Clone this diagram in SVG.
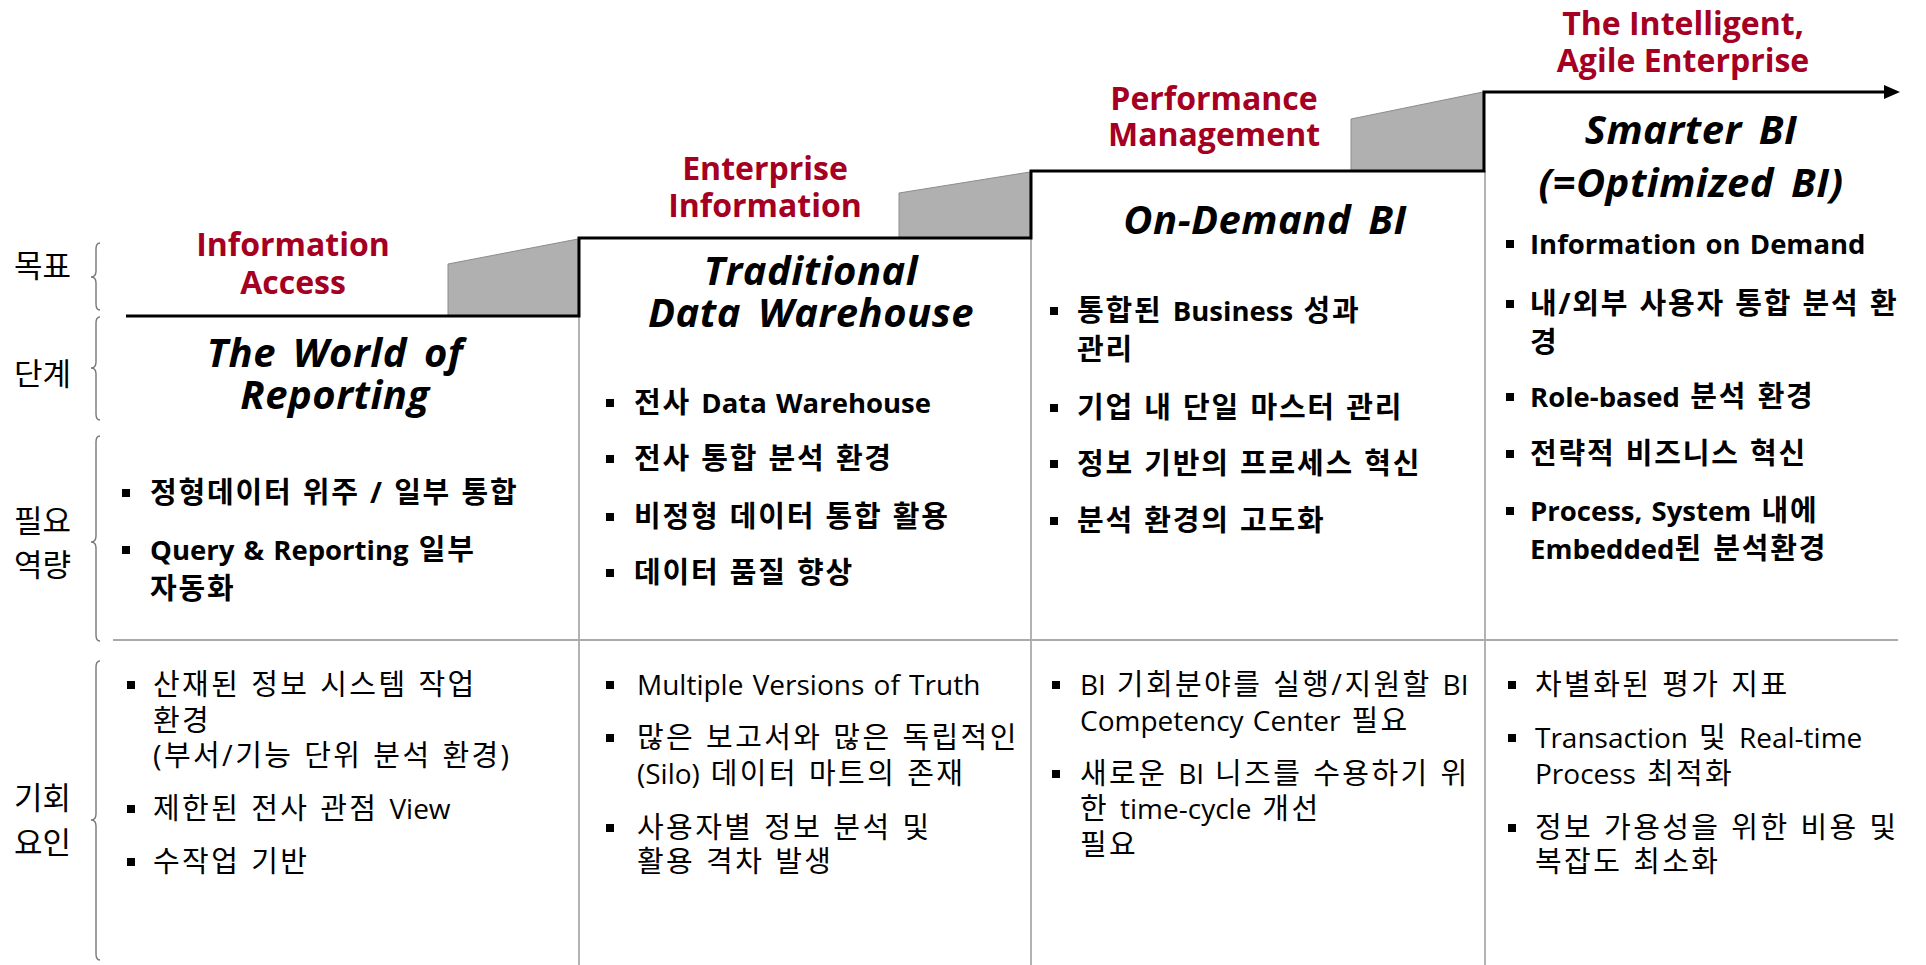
<svg xmlns="http://www.w3.org/2000/svg" width="1926" height="965" viewBox="0 0 1926 965">
<style>
text{font-family:"Open Sans","Noto Sans CJK KR",sans-serif}
.red{font-weight:bold;font-size:32px;fill:#A50021;text-anchor:middle}
.hd{font-weight:bold;font-style:italic;font-size:40px;fill:#000;text-anchor:middle;letter-spacing:0.5px;word-spacing:6px}
.b{font-weight:bold;font-size:29px;fill:#000;letter-spacing:1.8px;word-spacing:1px}
.r{font-size:29px;fill:#000;letter-spacing:2.4px;word-spacing:1px}
.b .e{font-size:27.5px;letter-spacing:0;word-spacing:2px}
.r .e{font-size:28px;letter-spacing:0;word-spacing:2px}
.lab{font-family:"Noto Sans CJK KR",sans-serif;font-size:31px;fill:#000}
.sq{fill:#000}
.brace{fill:none;stroke:#777;stroke-width:1.4}
.col{stroke:#aaa;stroke-width:1.8;fill:none}
.wedge{fill:#B0B0B0;stroke:#8c8c8c;stroke-width:1}
</style>
<rect width="1926" height="965" fill="#fff"/>

<g id="labels">
<text class="lab" x="14" y="277">목표</text>
<text class="lab" x="14" y="385">단계</text>
<text class="lab" x="14" y="532">필요</text>
<text class="lab" x="14" y="576">역량</text>
<text class="lab" x="14" y="809">기회</text>
<text class="lab" x="14" y="854">요인</text>
</g>

<g id="braces">
<path class="brace" d="M100,243 Q96,243 96,249 V271 Q96,277 91,277 Q96,277 96,283 V304 Q96,310 100,310"/>
<path class="brace" d="M100,317 Q96,317 96,323 V362 Q96,368 91,368 Q96,368 96,374 V414 Q96,420 100,420"/>
<path class="brace" d="M100,436 Q96,436 96,442 V536 Q96,542 91,542 Q96,542 96,548 V635 Q96,641 100,641"/>
<path class="brace" d="M100,661 Q96,661 96,667 V814 Q96,820 91,820 Q96,820 96,826 V954 Q96,960 100,960"/>
</g>

<g id="grid">
<line class="col" x1="113" y1="640" x2="1898" y2="640"/>
<line class="col" x1="579" y1="316" x2="579" y2="965"/>
<line class="col" x1="1031" y1="238" x2="1031" y2="965"/>
<line class="col" x1="1485" y1="171" x2="1485" y2="965"/>
</g>

<g id="connectors">
<polygon class="wedge" points="448,316 448,264 578,239 578,316"/>
<polygon class="wedge" points="899,238 899,193 1030,172 1030,238"/>
<polygon class="wedge" points="1351,171 1351,119 1483,92 1483,171"/>
<path d="M126,316 H579 V238 H1031 V171 H1484 V92 H1886" fill="none" stroke="#000" stroke-width="3"/>
<polygon points="1884,85 1900,92 1884,99" fill="#000"/>
</g>

<g id="stage1">
<text class="red" x="293" y="256">Information</text>
<text class="red" x="293" y="294">Access</text>
<text class="hd" x="335" y="367">The World of</text>
<text class="hd" x="335" y="409">Reporting</text>
<rect class="sq" x="122" y="489" width="8" height="8"/>
<text class="b" x="150" y="503">정형데이터 위주 / 일부 통합</text>
<rect class="sq" x="122" y="546" width="8" height="8"/>
<text class="b" x="150" y="560"><tspan class="e">Query &amp; Reporting</tspan> 일부</text>
<text class="b" x="150" y="599">자동화</text>
<rect class="sq" x="127" y="681" width="8" height="8"/>
<text class="r" x="153" y="695">산재된 정보 시스템 작업</text>
<text class="r" x="153" y="731">환경</text>
<text class="r" x="153" y="766">(부서/기능 단위 분석 환경)</text>
<rect class="sq" x="127" y="805" width="8" height="8"/>
<text class="r" x="153" y="819">제한된 전사 관점 <tspan class="e">View</tspan></text>
<rect class="sq" x="127" y="858" width="8" height="8"/>
<text class="r" x="153" y="872">수작업 기반</text>
</g>

<g id="stage2">
<text class="red" x="765" y="180">Enterprise</text>
<text class="red" x="765" y="217">Information</text>
<text class="hd" x="811" y="285">Traditional</text>
<text class="hd" x="811" y="327">Data Warehouse</text>
<rect class="sq" x="606" y="399" width="8" height="8"/>
<text class="b" x="634" y="413">전사 <tspan class="e">Data Warehouse</tspan></text>
<rect class="sq" x="606" y="455" width="8" height="8"/>
<text class="b" x="634" y="469">전사 통합 분석 환경</text>
<rect class="sq" x="606" y="513" width="8" height="8"/>
<text class="b" x="634" y="527">비정형 데이터 통합 활용</text>
<rect class="sq" x="606" y="569" width="8" height="8"/>
<text class="b" x="634" y="583">데이터 품질 향상</text>
<rect class="sq" x="606" y="681" width="8" height="8"/>
<text class="r" x="637" y="695"><tspan class="e">Multiple Versions of Truth</tspan></text>
<rect class="sq" x="606" y="734" width="8" height="8"/>
<text class="r" x="637" y="748">많은 보고서와 많은 독립적인</text>
<text class="r" x="637" y="784"><tspan class="e">(Silo)</tspan> 데이터 마트의 존재</text>
<rect class="sq" x="606" y="824" width="8" height="8"/>
<text class="r" x="637" y="838">사용자별 정보 분석 및</text>
<text class="r" x="637" y="872">활용 격차 발생</text>
</g>

<g id="stage3">
<text class="red" x="1214" y="110">Performance</text>
<text class="red" x="1214" y="146">Management</text>
<text class="hd" x="1265" y="234">On-Demand BI</text>
<rect class="sq" x="1050" y="307" width="8" height="8"/>
<text class="b" x="1077" y="321">통합된 <tspan class="e">Business</tspan> 성과</text>
<text class="b" x="1077" y="360">관리</text>
<rect class="sq" x="1050" y="404" width="8" height="8"/>
<text class="b" x="1077" y="418">기업 내 단일 마스터 관리</text>
<rect class="sq" x="1050" y="460" width="8" height="8"/>
<text class="b" x="1077" y="474">정보 기반의 프로세스 혁신</text>
<rect class="sq" x="1050" y="517" width="8" height="8"/>
<text class="b" x="1077" y="531">분석 환경의 고도화</text>
<rect class="sq" x="1052" y="681" width="8" height="8"/>
<text class="r" x="1080" y="695"><tspan class="e">BI</tspan> 기회분야를 실행/지원할 <tspan class="e">BI</tspan></text>
<text class="r" x="1080" y="731"><tspan class="e">Competency Center</tspan> 필요</text>
<rect class="sq" x="1052" y="770" width="8" height="8"/>
<text class="r" x="1080" y="784">새로운 <tspan class="e">BI</tspan> 니즈를 수용하기 위</text>
<text class="r" x="1080" y="819">한 <tspan class="e">time-cycle</tspan> 개선</text>
<text class="r" x="1080" y="855">필요</text>
</g>

<g id="stage4">
<text class="red" x="1683" y="35">The Intelligent,</text>
<text class="red" x="1683" y="72">Agile Enterprise</text>
<text class="hd" x="1691" y="144">Smarter BI</text>
<text class="hd" x="1691" y="197">(=Optimized BI)</text>
<rect class="sq" x="1506" y="240" width="8" height="8"/>
<text class="b" x="1530" y="254"><tspan class="e">Information on Demand</tspan></text>
<rect class="sq" x="1506" y="300" width="8" height="8"/>
<text class="b" x="1530" y="314">내/외부 사용자 통합 분석 환</text>
<text class="b" x="1530" y="353">경</text>
<rect class="sq" x="1506" y="393" width="8" height="8"/>
<text class="b" x="1530" y="407"><tspan class="e">Role-based</tspan> 분석 환경</text>
<rect class="sq" x="1506" y="450" width="8" height="8"/>
<text class="b" x="1530" y="464">전략적 비즈니스 혁신</text>
<rect class="sq" x="1506" y="507" width="8" height="8"/>
<text class="b" x="1530" y="521"><tspan class="e">Process, System</tspan> 내에</text>
<text class="b" x="1530" y="559"><tspan class="e">Embedded</tspan>된 분석환경</text>
<rect class="sq" x="1508" y="681" width="8" height="8"/>
<text class="r" x="1535" y="695">차별화된 평가 지표</text>
<rect class="sq" x="1508" y="734" width="8" height="8"/>
<text class="r" x="1535" y="748"><tspan class="e">Transaction</tspan> 및 <tspan class="e">Real-time</tspan></text>
<text class="r" x="1535" y="784"><tspan class="e">Process</tspan> 최적화</text>
<rect class="sq" x="1508" y="824" width="8" height="8"/>
<text class="r" x="1535" y="838">정보 가용성을 위한 비용 및</text>
<text class="r" x="1535" y="872">복잡도 최소화</text>
</g>
</svg>
